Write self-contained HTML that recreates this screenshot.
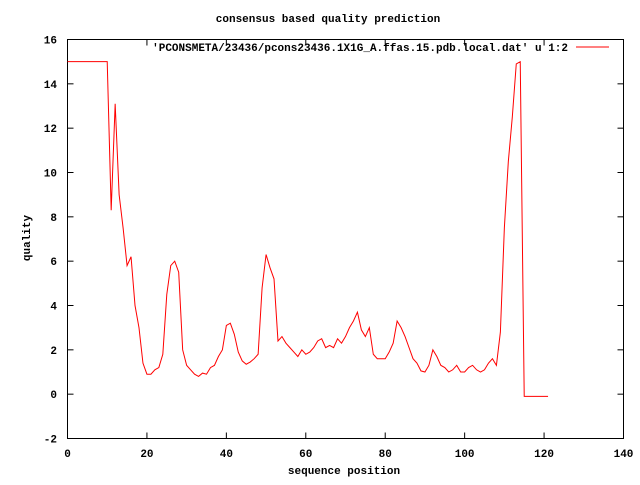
<!DOCTYPE html>
<html><head><meta charset="utf-8"><style>
body{margin:0;background:#fff}
svg text{font-family:"Liberation Mono",monospace;font-size:11px;font-weight:bold;fill:#000}
</style></head><body>
<svg id="chart" width="640" height="480" xmlns="http://www.w3.org/2000/svg">
<rect width="640" height="480" fill="#fff"/>
<text x="328" y="22" text-anchor="middle">consensus based quality prediction</text>
<text x="344" y="474" text-anchor="middle">sequence position</text>
<text transform="translate(30,238) rotate(-90)" text-anchor="middle">quality</text>
<g id="axes"></g>
<text x="568" y="51" text-anchor="end">'PCONSMETA/23436/pcons23436.1X1G_A.ffas.15.pdb.local.dat' u 1:2</text>
<line x1="576" y1="47" x2="609" y2="47" stroke="#f00" stroke-width="1"/>
<rect x="67.5" y="39.5" width="556" height="399" fill="none" stroke="#000"/>
<polyline id="series" fill="none" stroke="#f00" stroke-width="1"/>
</svg>
<script>
const xTicks=[0,20,40,60,80,100,120,140];
const yTicks=[-2,0,2,4,6,8,10,12,14,16];
const positions=[0,1,2,3,4,5,6,7,8,9,10,11,12,13,14,15,16,17,18,19,20,21,22,23,24,25,26,27,28,29,30,31,32,33,34,35,36,37,38,39,40,41,42,43,44,45,46,47,48,49,50,51,52,53,54,55,56,57,58,59,60,61,62,63,64,65,66,67,68,69,70,71,72,73,74,75,76,77,78,79,80,81,82,83,84,85,86,87,88,89,90,91,92,93,94,95,96,97,98,99,100,101,102,103,104,105,106,107,108,109,110,111,112,113,114,115,116,117,118,119,120,121];
const quality=[15,15,15,15,15,15,15,15,15,15,15,8.3,13.1,9,7.5,5.8,6.2,4,3,1.4,0.9,0.9,1.1,1.2,1.8,4.5,5.8,6.0,5.5,2.0,1.3,1.1,0.9,0.8,0.95,0.9,1.2,1.3,1.7,2.0,3.1,3.2,2.7,1.9,1.5,1.35,1.45,1.6,1.8,4.8,6.3,5.7,5.2,2.4,2.6,2.3,2.1,1.9,1.7,2.0,1.8,1.9,2.1,2.4,2.5,2.1,2.2,2.1,2.5,2.3,2.6,3.0,3.3,3.7,2.9,2.6,3.0,1.8,1.6,1.6,1.6,1.9,2.3,3.3,3.0,2.6,2.1,1.6,1.4,1.05,1.0,1.3,2.0,1.7,1.3,1.2,1.0,1.1,1.3,1.0,1.0,1.2,1.3,1.1,1.0,1.1,1.4,1.6,1.3,2.8,7.5,10.5,12.5,14.9,15.0,-0.1,-0.1,-0.1,-0.1,-0.1,-0.1,-0.1];
const X0=67.5,X1=623.5,Y0=438.5,Y1=39.5;
const sx=v=>X0+(v-0)/(140-0)*(X1-X0);
const sy=v=>Y0-(v+2)/(16+2)*(Y0-Y1);
const NS='http://www.w3.org/2000/svg';
const g=document.getElementById('axes');
function mk(t,a){const e=document.createElementNS(NS,t);for(const k in a)e.setAttribute(k,a[k]);g.appendChild(e);return e;}
xTicks.forEach(v=>{const x=sx(v);
 const t1=mk('line',{x1:x,y1:Y0,x2:x,y2:Y0-6,stroke:'#000'});
 
 
 const t2=mk('line',{x1:x,y1:Y1,x2:x,y2:Y1+6,stroke:'#000'});
 
 
 const l=mk('text',{x:x,y:457,'text-anchor':'middle'});l.textContent=v;
 
 
});
yTicks.forEach(v=>{const y=sy(v);
 const t1=mk('line',{x1:X0,y1:y,x2:X0+6,y2:y,stroke:'#000'});
 
 
 const t2=mk('line',{x1:X1,y1:y,x2:X1-6,y2:y,stroke:'#000'});
 
 
 const l=mk('text',{x:57,y:y+4,'text-anchor':'end'});l.textContent=v;
 
 
});
document.getElementById('series').setAttribute('points',positions.map((p,i)=>sx(p)+','+sy(quality[i])).join(' '));
</script>
</body></html>
